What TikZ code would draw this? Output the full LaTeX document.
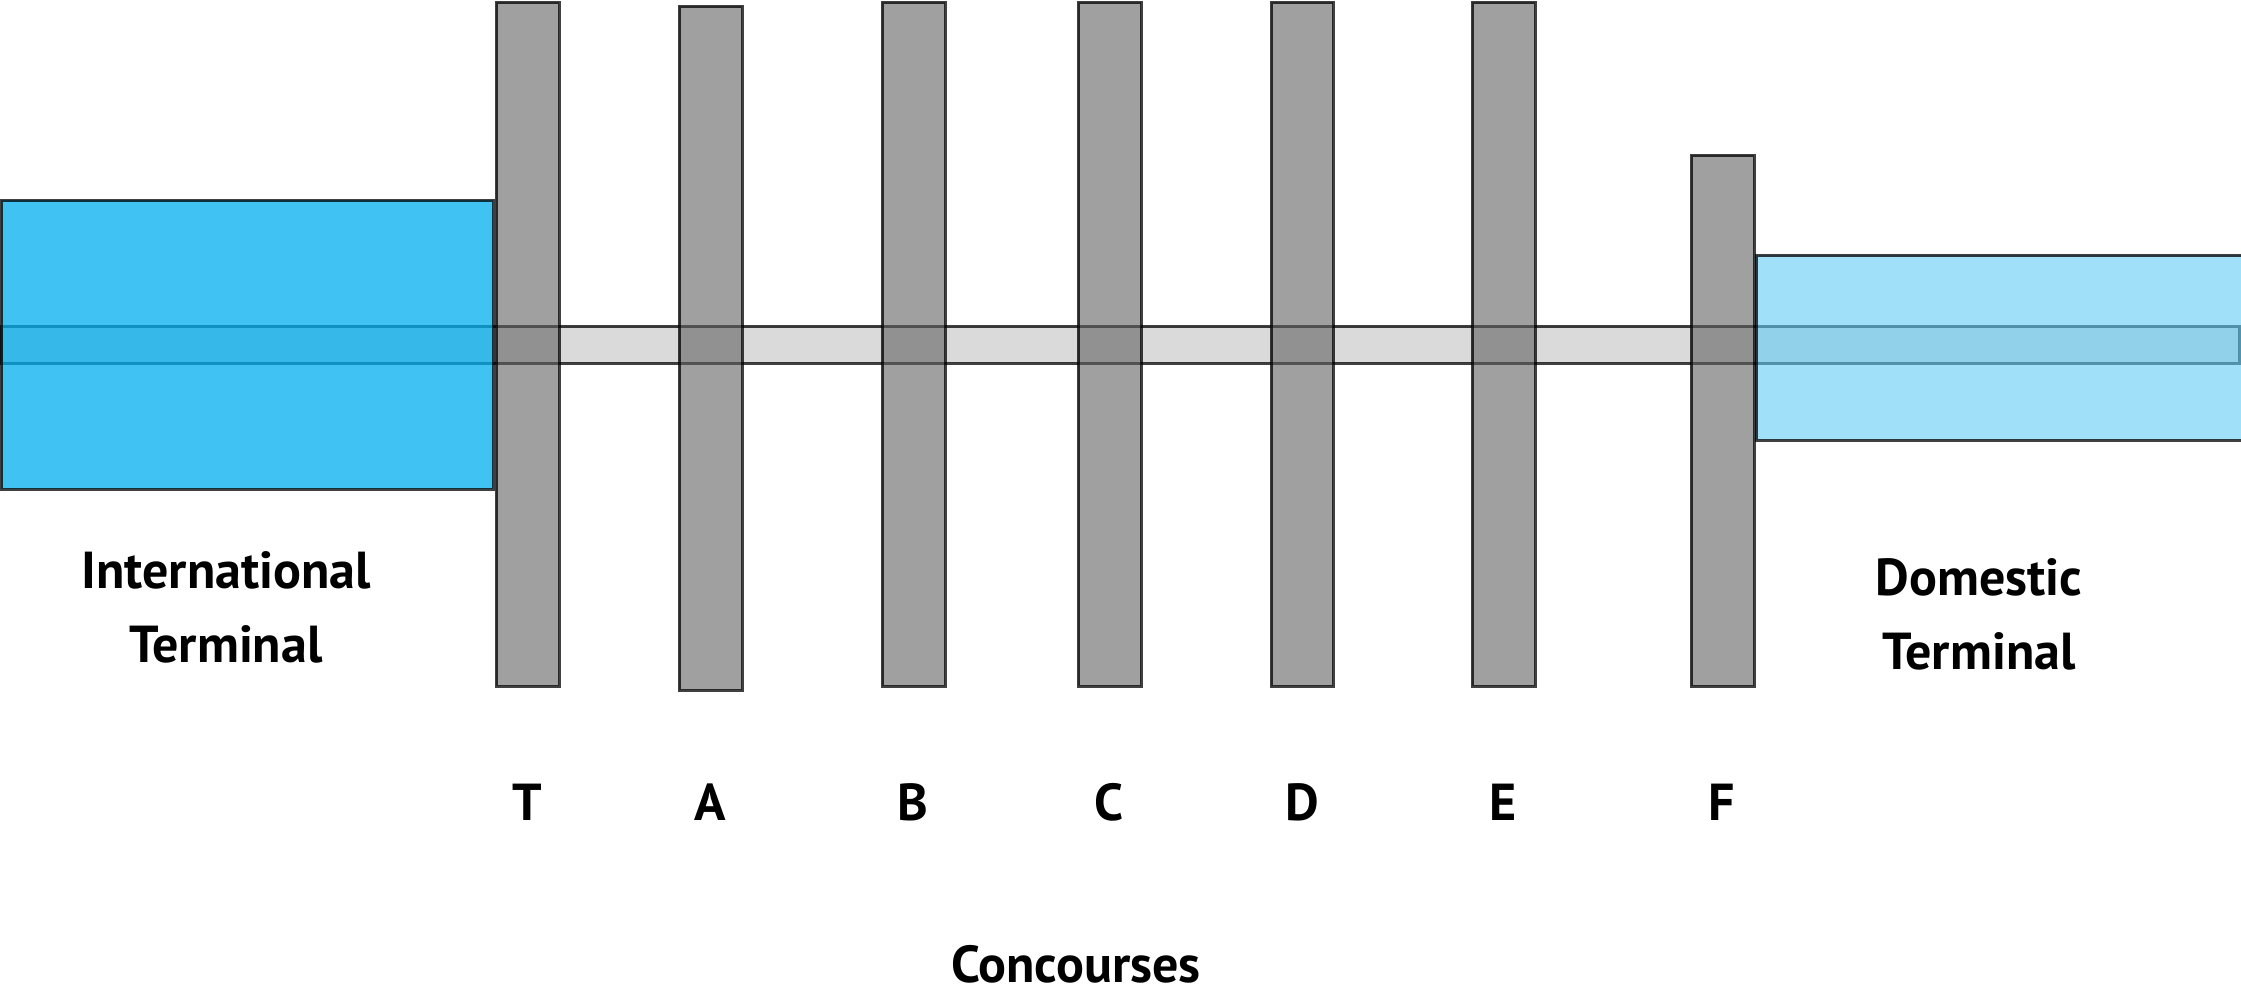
\documentclass[tikz,border=0pt]{standalone}
\usepackage{fontspec}
\setmainfont{PT Sans}
\definecolor{intlblue}{RGB}{0,173,237}
\definecolor{domblue}{RGB}{97,203,243}
\definecolor{barfill}{RGB}{97,97,97}
\definecolor{walkfill}{RGB}{218,218,218}
\tikzset{every picture/.style={line width=1.5pt}}
\tikzset{
  concourse/.style={draw=black,draw opacity=0.75,fill=barfill,fill opacity=0.6},
  terminal/.style={draw=black,draw opacity=0.75},
  walkway/.style={draw=black,draw opacity=0.75,fill=walkfill},
  signtext/.style={inner sep=0pt,anchor=base,align=center,font=\fontsize{26}{37}\selectfont\bfseries}
}

\begin{document}
\begin{tikzpicture}[x=0.5pt,y=0.5pt,yscale=-1,xscale=1]
  \useasboundingbox (0,0) rectangle (2241,993);
  % walkway below everything
  \draw [walkway] (1,326) rectangle (2239,363);
  % terminals
  \draw [terminal,fill=intlblue,fill opacity=0.75] (1,200) rectangle (493,489);
  \draw [terminal,fill=domblue,fill opacity=0.6] (1756,255) rectangle (2245,440);
  % concourses
  \draw [concourse] (496,2) rectangle (559,686);
  \draw [concourse] (679,6) rectangle (742,690);
  \draw [concourse] (882,2) rectangle (945,686);
  \draw [concourse] (1078,2) rectangle (1141,686);
  \draw [concourse] (1271,2) rectangle (1333,686);
  \draw [concourse] (1472,2) rectangle (1535,686);
  \draw [concourse] (1691,155) rectangle (1754,686);
  % labels
  \node [signtext] (intl) at (226,662) {International\\Terminal};
  \node [signtext] (dom) at (1979,669) {Domestic\\Terminal};
  \node [signtext] (ct) at (527,820) {T};
  \node [signtext] (ca) at (710,820) {A};
  \node [signtext] (cb) at (913,820) {B};
  \node [signtext] (cc) at (1109,820) {C};
  \node [signtext] (cd) at (1302,820) {D};
  \node [signtext] (ce) at (1503,820) {E};
  \node [signtext] (cf) at (1722,820) {F};
  \node [signtext] (conc) at (1076,982) {Concourses};
\end{tikzpicture}
\end{document}
